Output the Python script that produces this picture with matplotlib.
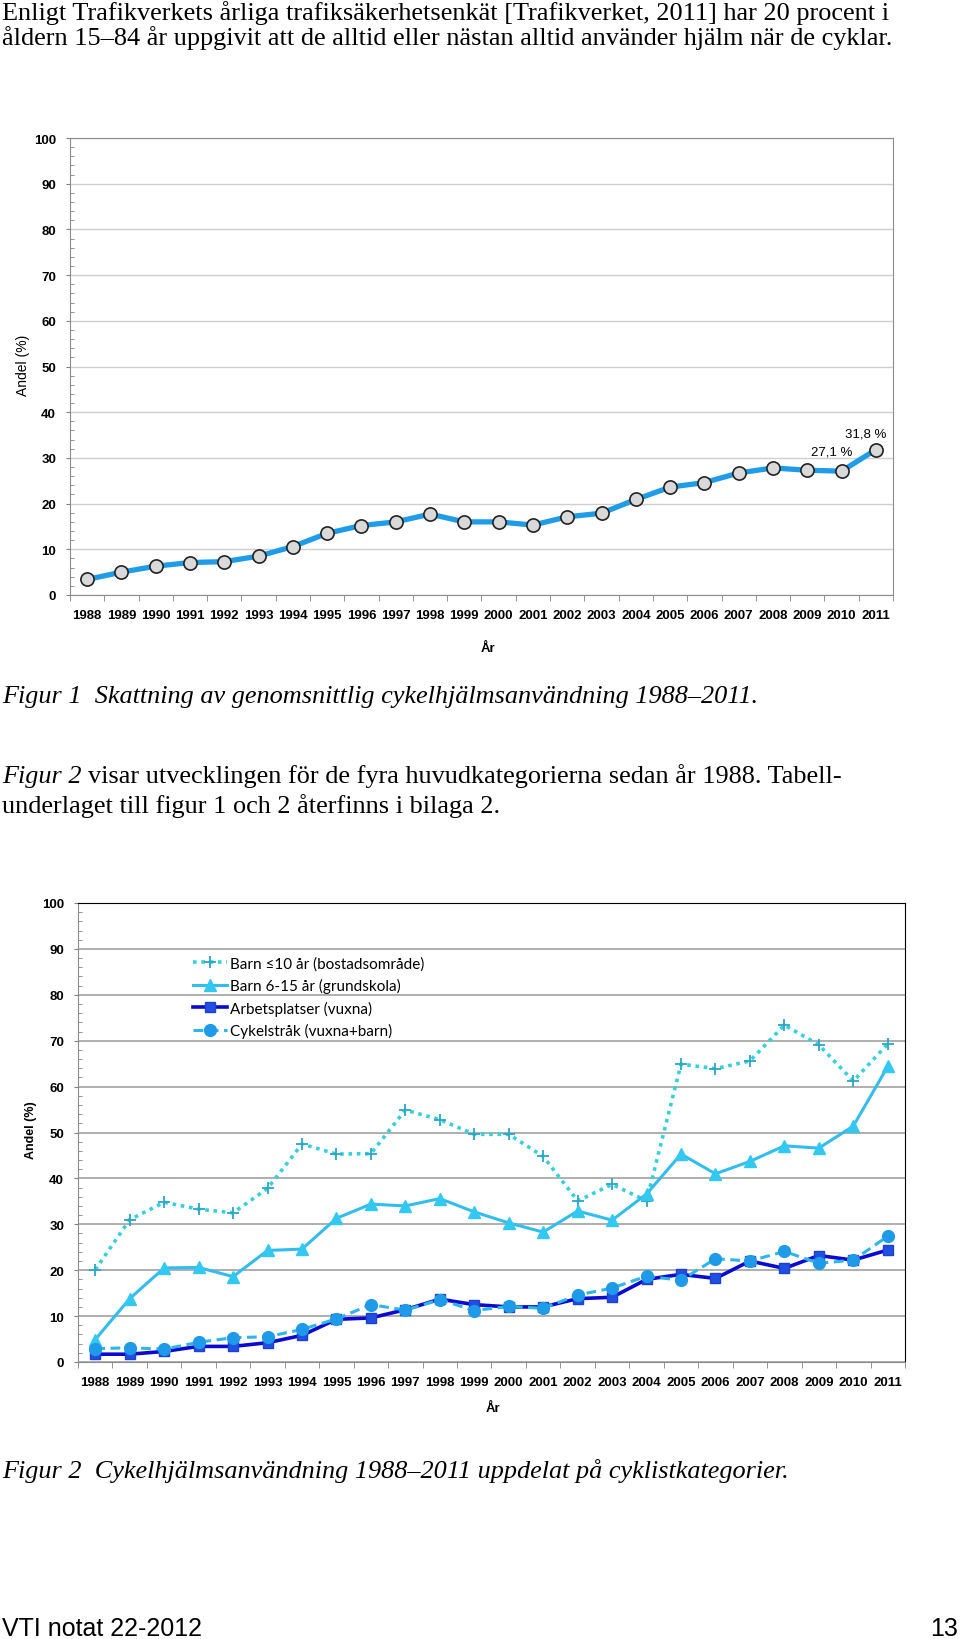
import matplotlib
matplotlib.use("Agg")
import matplotlib.pyplot as plt
from matplotlib.ticker import MultipleLocator, FixedLocator

years = [str(y) for y in range(1988, 2012)]

# Figur 1: genomsnittlig cykelhjälmsanvändning (%)
snitt = [3.4, 5.0, 6.3, 7.1, 7.3, 8.5, 10.6, 13.5, 15.2, 16.0, 17.7, 16.0,
         16.0, 15.3, 17.1, 17.9, 20.9, 23.6, 24.6, 26.7, 27.8, 27.3, 27.1, 31.8]

# Figur 2: per cyklistkategori (%)
barn_10 = [20.1, 31.0, 34.8, 33.3, 32.5, 37.8, 47.5, 45.3, 45.4, 54.9, 52.8, 49.6,
           49.6, 44.8, 35.1, 38.7, 35.1, 64.9, 63.9, 65.6, 73.4, 69.1, 61.2, 69.3]
barn_6_15 = [4.9, 13.8, 20.5, 20.6, 18.6, 24.3, 24.6, 31.3, 34.4, 34.0, 35.6, 32.7,
             30.3, 28.3, 32.9, 30.9, 36.6, 45.3, 41.0, 43.7, 47.1, 46.6, 51.4, 64.4]
arbete = [1.7, 1.7, 2.3, 3.4, 3.4, 4.2, 5.8, 9.3, 9.6, 11.4, 13.7, 12.5,
          12.0, 12.0, 13.8, 14.1, 18.0, 19.1, 18.2, 22.0, 20.4, 23.2, 22.2, 24.4]
cykelstrak = [2.9, 3.1, 2.8, 4.3, 5.3, 5.5, 7.1, 9.4, 12.5, 11.3, 13.6, 11.2,
              12.1, 11.7, 14.6, 16.1, 18.7, 17.8, 22.5, 22.0, 24.1, 21.5, 22.2, 27.4]

series_names = ["Barn \u226410 år (bostadsområde)", "Barn 6-15 år (grundskola)",
                "Arbetsplatser (vuxna)", "Cykelstråk (vuxna+barn)"]

W, H = 960, 1640
fig = plt.figure(figsize=(W / 100, H / 100), dpi=100)
fig.patch.set_facecolor("white")

serif = ["Liberation Serif", "DejaVu Serif"]
sans = ["Liberation Sans", "DejaVu Sans"]


def ftext(x, y, s, **kw):
    return fig.text(x / W, 1 - y / H, s, va="baseline", **kw)


def setup_axis(ax, gridcol, gridlw):
    x = list(range(len(years)))
    ax.set_xlim(-0.5, len(years) - 0.5)
    ax.set_ylim(0, 100)
    ax.xaxis.set_major_locator(FixedLocator(x))
    ax.xaxis.set_minor_locator(FixedLocator([i - 0.5 for i in range(len(years) + 1)]))
    ax.set_xticklabels(years, fontsize=9.5, fontweight="bold", family=sans)
    ax.tick_params(axis="x", which="major", length=0, pad=10)
    ax.tick_params(axis="x", which="minor", length=4, direction="out", color="#808080")
    ax.yaxis.set_major_locator(MultipleLocator(10))
    ax.yaxis.set_minor_locator(MultipleLocator(2))
    ax.tick_params(axis="y", which="major", length=3, direction="out", pad=7,
                   labelsize=9.5, color="#808080")
    ax.tick_params(axis="y", which="minor", length=3, direction="in", color="#808080")
    for lab in ax.get_yticklabels():
        lab.set_fontweight("bold")
        lab.set_family(sans)
    ax.grid(axis="y", which="major", color=gridcol, lw=gridlw)
    ax.set_axisbelow(True)
    return x


# ---- Figur 1 ----
ax1 = fig.add_axes([70 / W, 1 - 596 / H, 823 / W, 457 / H])
x = setup_axis(ax1, "#cfcfcf", 1.0)
for s in ax1.spines.values():
    s.set_color("#8c8c8c")
ax1.plot(x, snitt, color="#1f9be8", lw=3.8, marker="o", ms=9.5,
         mfc="#d9d9d9", mec="#222222", mew=1.2, zorder=3)
ax1.annotate("27,1 %", (x[-2], snitt[-2]), xytext=(-7, 14), textcoords="offset points",
             ha="center", va="center", fontsize=9.5, family=sans)
ax1.annotate("31,8 %", (x[-1], snitt[-1]), xytext=(-7, 12), textcoords="offset points",
             ha="center", va="center", fontsize=9.5, family=sans)
ax1.set_ylabel("Andel (%)", fontsize=10, family=sans)
ax1.yaxis.set_label_coords(-0.048, 0.505)
ax1.set_xlabel("År", fontsize=9.5, fontweight="bold", family=sans)
ax1.xaxis.set_label_coords(0.508, -0.116)
ax1.xaxis.label.set_va("center")

# ---- Figur 2 ----
ax2 = fig.add_axes([78 / W, 1 - 1363 / H, 827 / W, 459 / H])
x = setup_axis(ax2, "#a8a8a8", 1.3)
ax2.spines["left"].set_color("#8c8c8c")
ax2.spines["bottom"].set_color("#8c8c8c")
ax2.spines["top"].set_color("black")
ax2.spines["right"].set_color("black")
ax2.plot(x, barn_10, color="#35d0dc", lw=2.6, ls=(0, (1, 1.3)), marker="+", ms=9,
         mec="#2aa6c8", mew=1.3, label=series_names[0], zorder=3)
ax2.plot(x, barn_6_15, color="#33bdee", lw=2.2, marker="^", ms=8.5,
         mfc="#33c8f0", mec="#33c8f0", label=series_names[1], zorder=3)
ax2.plot(x, arbete, color="#0a0ad0", lw=2.6, marker="s", ms=7.5,
         mfc="#1f50e0", mec="#1f40d0", label=series_names[2], zorder=4)
ax2.plot(x, cykelstrak, color="#2eb6ea", lw=2.2, ls=(0, (3.2, 1.8)), marker="o", ms=8.5,
         mfc="#1f9ae8", mec="#1f9ae8", label=series_names[3], zorder=4)
ax2.set_ylabel("Andel (%)", fontsize=9, fontweight="bold", family=sans)
ax2.yaxis.set_label_coords(-0.049, 0.508)
ax2.set_xlabel("År", fontsize=9.5, fontweight="bold", family=sans)
ax2.xaxis.set_label_coords(0.502, -0.1)
ax2.xaxis.label.set_va("center")
ax2.legend(loc="upper left", bbox_to_anchor=((193 - 78) / 827, (1363 - 957) / 459),
           frameon=False, borderpad=0, borderaxespad=0, handlelength=2.2,
           handletextpad=0.25, labelspacing=0.5,
           prop={"family": ["Lato", "DejaVu Sans"], "size": 11})

# ---- Brödtext ----
body = dict(fontsize=18.9, family=serif)
ftext(2, 20, "Enligt Trafikverkets årliga trafiksäkerhetsenkät [Trafikverket, 2011] har 20 procent i", **body)
ftext(2, 45, "åldern 15–84 år uppgivit att de alltid eller nästan alltid använder hjälm när de cyklar.", **body)
ftext(2, 703, "Figur 1  Skattning av genomsnittlig cykelhjälmsanvändning 1988–2011.", style="italic", **body)
t = ftext(2, 783, "Figur 2", style="italic", **body)
renderer = fig.canvas.get_renderer()
x_end = t.get_window_extent(renderer).x1
ftext(x_end + 6, 783, "visar utvecklingen för de fyra huvudkategorierna sedan år 1988. Tabell-", **body)
ftext(2, 813, "underlaget till figur 1 och 2 återfinns i bilaga 2.", **body)
ftext(2, 1478, "Figur 2  Cykelhjälmsanvändning 1988–2011 uppdelat på cyklistkategorier.", style="italic", **body)
foot = dict(fontsize=18, family=["Liberation Sans Narrow", "Liberation Sans", "DejaVu Sans"])
ftext(2, 1636, "VTI notat 22-2012", **foot)
fig.text(958 / W, 1 - 1636 / H, "13", ha="right", va="baseline", **foot)

fig.savefig("out.png", dpi=100, facecolor="white")
